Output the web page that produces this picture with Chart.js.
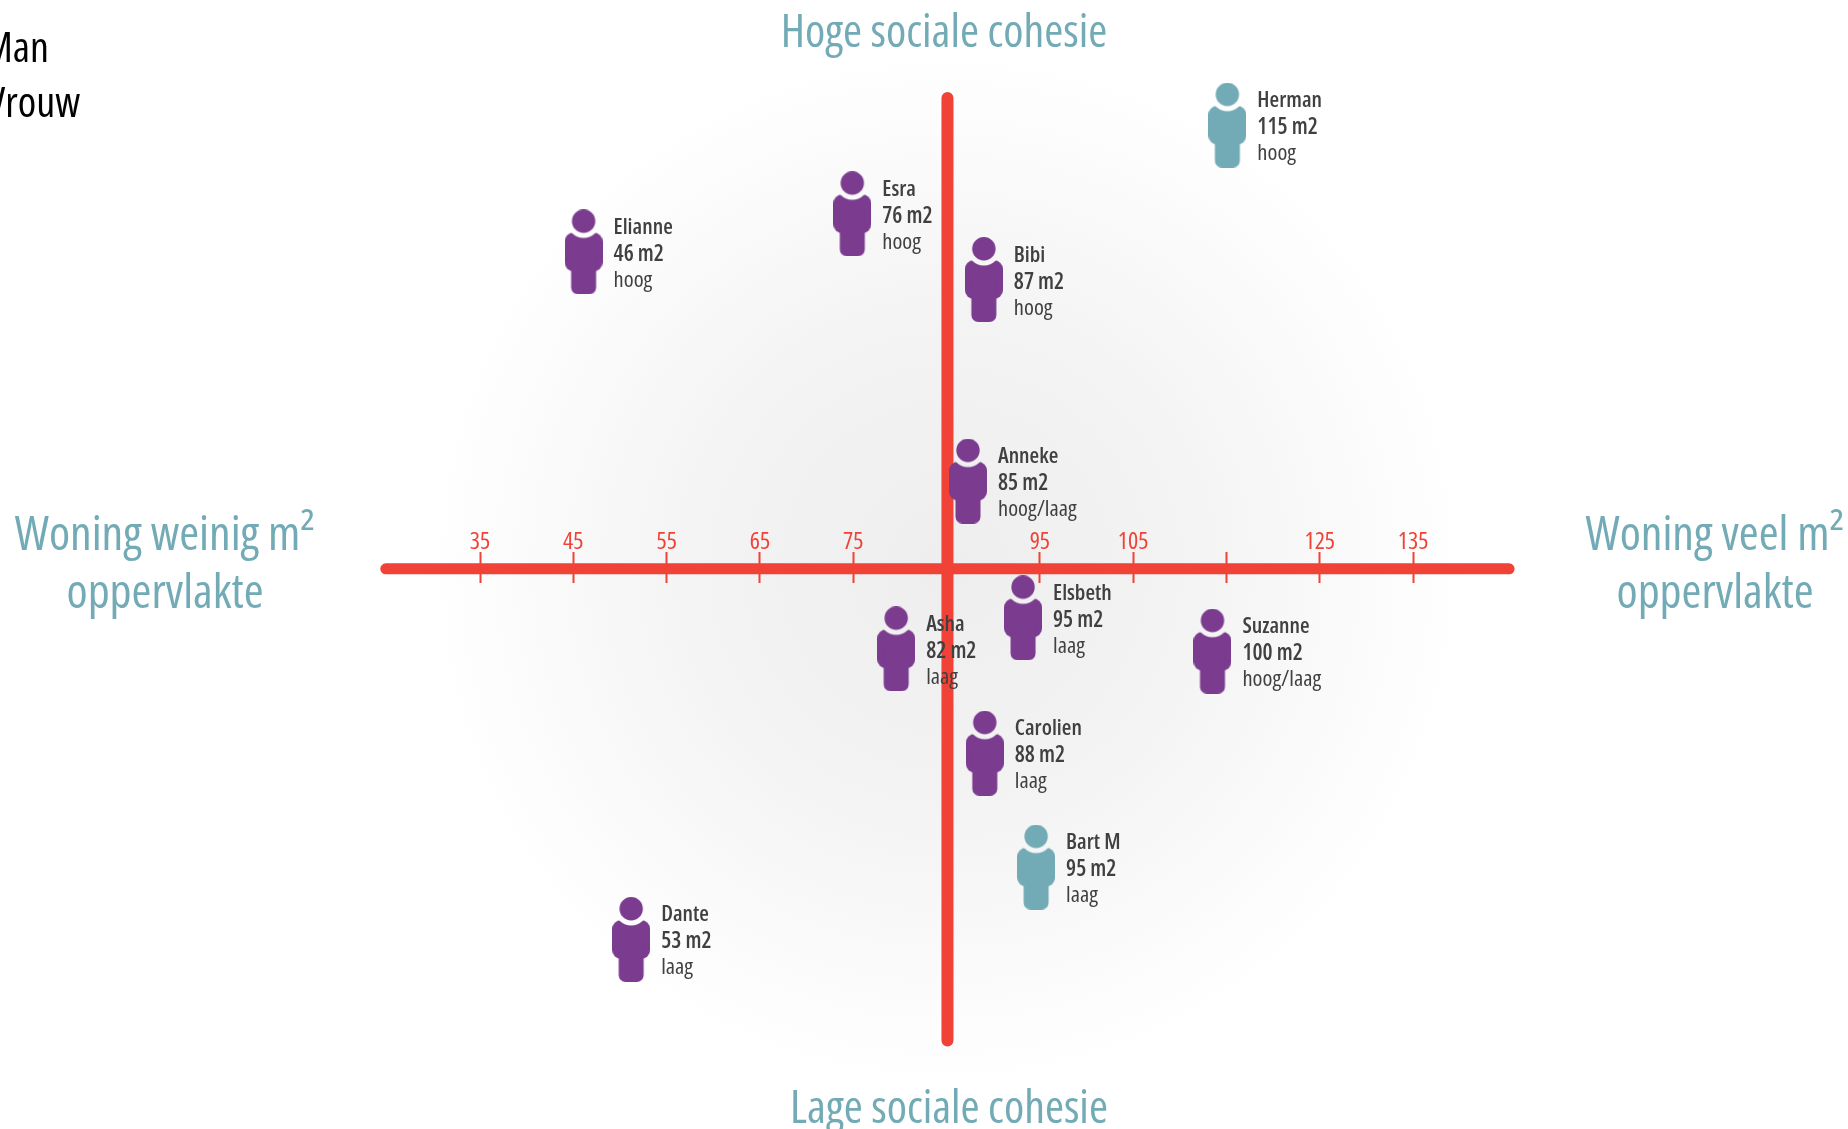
<!DOCTYPE html>
<html lang="nl">
<head>
    <meta charset="UTF-8">
    <title>Woning m2 en sociale cohesie</title>
    <script src="https://cdn.jsdelivr.net/npm/chart.js"></script>
    <style>
        html, body { margin: 0; background: #fff; overflow: hidden; }
        #wrap { width: 1848px; height: 1129px; position: relative; }
    </style>
</head>
<body>
    <div id="wrap"><canvas id="chart"></canvas></div>
    <script>
        // Data
        const names = ['Herman', 'Elianne', 'Esra', 'Bibi', 'Anneke', 'Elsbeth', 'Asha', 'Suzanne', 'Carolien', 'Bart M', 'Dante'];
        const areas = ['115 m2', '46 m2', '76 m2', '87 m2', '85 m2', '95 m2', '82 m2', '100 m2', '88 m2', '95 m2', '53 m2'];
        const cohesion = ['hoog', 'hoog', 'hoog', 'hoog', 'hoog/laag', 'laag', 'laag', 'hoog/laag', 'laag', 'laag', 'laag'];
        const genders = ['man', 'vrouw', 'vrouw', 'vrouw', 'vrouw', 'vrouw', 'vrouw', 'vrouw', 'vrouw', 'man', 'vrouw'];
        const xValues = [115.1, 46.1, 74.9, 89.0, 87.3, 93.2, 79.6, 113.5, 89.1, 94.6, 51.2];
        const yValues = [93.0, 66.4, 74.4, 60.6, 18.3, -10.4, -16.9, -17.4, -38.8, -62.7, -77.9];
        const tickValues = [35, 45, 55, 65, 75, 95, 105, 115, 125, 135];
        const tickLabels = ['35', '45', '55', '65', '75', '95', '105', '', '125', '135'];
        const legendLabels = ['Man', 'Vrouw'];

        const RED = '#f04236';
        const TEAL = '#72abb6';
        const PURPLE = '#7b3b8f';
        const FAMILY = '"Open Sans", sans-serif';

        // Person icon, used as point style
        function makeIcon(color) {
            const c = document.createElement('canvas');
            c.width = 38;
            c.height = 85;
            const g = c.getContext('2d');
            g.fillStyle = color;
            g.beginPath();
            g.roundRect(0, 23, 38, 39, 9);
            g.fill();
            g.beginPath();
            g.roundRect(6.5, 40, 25, 45, 7);
            g.fill();
            // neck gap
            g.globalCompositeOperation = 'destination-out';
            g.beginPath();
            g.arc(19, 11.7, 16.7, 0, Math.PI * 2);
            g.fill();
            g.globalCompositeOperation = 'source-over';
            g.beginPath();
            g.arc(19, 11.7, 11.7, 0, Math.PI * 2);
            g.fill();
            return c;
        }
        const icons = { man: makeIcon(TEAL), vrouw: makeIcon(PURPLE) };

        // Soft grey glow behind the axes
        const glow = {
            id: 'glow',
            beforeDraw(chart) {
                const { ctx, scales } = chart;
                const cx = scales.x.getPixelForValue(85);
                const cy = scales.y.getPixelForValue(0);
                const g = ctx.createRadialGradient(cx, cy, 0, cx, cy, 520);
                g.addColorStop(0, '#eeeeee');
                g.addColorStop(0.45, '#f3f3f3');
                g.addColorStop(1, '#ffffff');
                ctx.save();
                ctx.fillStyle = g;
                ctx.fillRect(0, 0, chart.width, chart.height);
                ctx.restore();
            }
        };

        // Name, m2 and cohesion next to each person, plus the outer titles
        const labels = {
            id: 'labels',
            afterDatasetsDraw(chart) {
                const { ctx } = chart;
                const people = chart.getDatasetMeta(0).data;
                ctx.save();
                ctx.textBaseline = 'alphabetic';
                ctx.textAlign = 'left';
                ctx.fillStyle = '#404040';
                people.forEach((pt, i) => {
                    ctx.font = '650 condensed 22px ' + FAMILY;
                    ctx.fillText(names[i], pt.x + 30, pt.y - 18);
                    ctx.font = '650 condensed 22.5px ' + FAMILY;
                    ctx.fillText(areas[i], pt.x + 30, pt.y + 9);
                    ctx.font = 'condensed 22.5px ' + FAMILY;
                    ctx.fillText(cohesion[i], pt.x + 30, pt.y + 35);
                });

                ctx.fillStyle = '#000000';
                ctx.font = 'condensed 42px ' + FAMILY;
                ctx.fillText(legendLabels[0], -17, 62);
                ctx.fillText(legendLabels[1], -13, 117);

                ctx.fillStyle = TEAL;
                ctx.textAlign = 'center';
                ctx.font = 'condensed 46px ' + FAMILY;
                ctx.fillText('Hoge sociale cohesie', 944, 47);
                ctx.fillText('Lage sociale cohesie', 949, 1123);
                ctx.font = 'condensed 48px ' + FAMILY;
                ctx.fillText('Woning weinig m²', 165, 550);
                ctx.fillText('oppervlakte', 165, 608);
                ctx.fillText('Woning veel m²', 1715, 550);
                ctx.fillText('oppervlakte', 1715, 608);
                ctx.restore();
            }
        };

        new Chart(document.getElementById('chart'), {
            type: 'scatter',
            data: {
                datasets: [
                    {
                        label: 'Personen',
                        data: xValues.map((x, i) => ({ x: x, y: yValues[i] })),
                        pointStyle: genders.map(g => icons[g]),
                        showLine: false
                    },
                    {
                        label: 'Oppervlakte',
                        data: [{ x: 24.9, y: -0.1 }, { x: 145.3, y: -0.1 }],
                        showLine: true,
                        borderColor: RED,
                        borderWidth: 11,
                        borderCapStyle: 'round',
                        pointRadius: 0
                    },
                    {
                        label: 'Sociale cohesie',
                        data: [{ x: 85.1, y: 98.7 }, { x: 85.1, y: -99.1 }],
                        showLine: true,
                        borderColor: RED,
                        borderWidth: 12,
                        borderCapStyle: 'round',
                        pointRadius: 0
                    }
                ]
            },
            options: {
                responsive: true,
                maintainAspectRatio: false,
                animation: false,
                layout: { padding: 0, autoPadding: false },
                plugins: { legend: { display: false }, tooltip: { enabled: false } },
                events: [],
                scales: {
                    x: {
                        type: 'linear',
                        min: -16.45,
                        max: 181.62,
                        position: { y: 3.42 },
                        border: { display: false },
                        grid: { drawOnChartArea: false, drawTicks: true, tickLength: 31, tickColor: RED, tickWidth: 2 },
                        afterBuildTicks(scale) {
                            scale.ticks = tickValues.map(v => ({ value: v }));
                        },
                        ticks: {
                            autoSkip: false,
                            maxRotation: 0,
                            color: RED,
                            font: { family: FAMILY, size: 24, weight: 'condensed' },
                            padding: -55,
                            callback(value) {
                                return tickLabels[tickValues.indexOf(value)];
                            }
                        }
                    },
                    y: {
                        type: 'linear',
                        display: false,
                        min: -117.67,
                        max: 119.27
                    }
                }
            },
            plugins: [glow, labels]
        });
    </script>
</body>
</html>
